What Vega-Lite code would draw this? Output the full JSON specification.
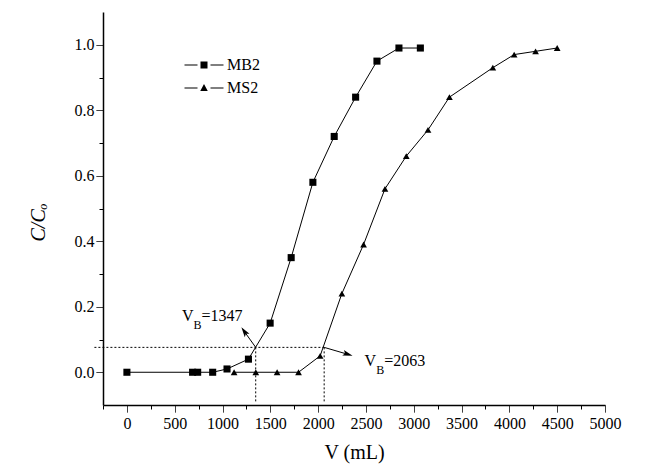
{
  "$schema": "https://vega.github.io/schema/vega-lite/v6.json",
  "width": 502,
  "height": 393,
  "autosize": {"type": "none"},
  "padding": {"left": 103, "top": 12, "right": 46, "bottom": 67},
  "background": "white",
  "config": {
    "view": {"stroke": null},
    "font": "Liberation Serif",
    "axis": {
      "grid": false,
      "domainColor": "black",
      "domainWidth": 1.5,
      "tickColor": "black",
      "tickWidth": 1,
      "labelColor": "black",
      "labelFont": "Liberation Serif",
      "labelFontSize": 16,
      "titleFont": "Liberation Serif",
      "titleColor": "black",
      "titleFontWeight": "normal",
      "titleFontSize": 20
    }
  },
  "datasets": {
    "pts": [
      {"series": "MB2", "x": 0, "y": 0},
      {"series": "MB2", "x": 687, "y": 0},
      {"series": "MB2", "x": 740, "y": 0},
      {"series": "MB2", "x": 897, "y": 0},
      {"series": "MB2", "x": 1047, "y": 0.01},
      {"series": "MB2", "x": 1271, "y": 0.04},
      {"series": "MB2", "x": 1498, "y": 0.15},
      {"series": "MB2", "x": 1718, "y": 0.35},
      {"series": "MB2", "x": 1945, "y": 0.58},
      {"series": "MB2", "x": 2168, "y": 0.72},
      {"series": "MB2", "x": 2392, "y": 0.84},
      {"series": "MB2", "x": 2615, "y": 0.95},
      {"series": "MB2", "x": 2845, "y": 0.99},
      {"series": "MB2", "x": 3069, "y": 0.99},
      {"series": "MS2", "x": 1121, "y": 0},
      {"series": "MS2", "x": 1348, "y": 0},
      {"series": "MS2", "x": 1571, "y": 0},
      {"series": "MS2", "x": 1795, "y": 0},
      {"series": "MS2", "x": 2021, "y": 0.05},
      {"series": "MS2", "x": 2248, "y": 0.24},
      {"series": "MS2", "x": 2475, "y": 0.39},
      {"series": "MS2", "x": 2699, "y": 0.56},
      {"series": "MS2", "x": 2922, "y": 0.66},
      {"series": "MS2", "x": 3149, "y": 0.74},
      {"series": "MS2", "x": 3373, "y": 0.84},
      {"series": "MS2", "x": 3827, "y": 0.93},
      {"series": "MS2", "x": 4050, "y": 0.97},
      {"series": "MS2", "x": 4274, "y": 0.98},
      {"series": "MS2", "x": 4500, "y": 0.99}
    ],
    "guide": [
      {"x": -340, "y": 0.076, "x2": 2063, "y2": 0.076},
      {"x": 1347, "y": 0.076, "x2": 1347, "y2": -0.093},
      {"x": 2063, "y": 0.076, "x2": 2063, "y2": -0.093}
    ],
    "shaft": [
      {"x": 1347, "y": 0.076, "x2": 1229, "y2": 0.124},
      {"x": 2063, "y": 0.076, "x2": 2308, "y2": 0.055}
    ],
    "head": [
      {"arrow": "A", "x": 1229, "y": 0.124},
      {"arrow": "B", "x": 2308, "y": 0.055}
    ],
    "annot": [
      {"part": "V", "x": 575, "y": 0.155, "text": "V"},
      {"part": "sub", "x": 697, "y": 0.133, "text": "B"},
      {"part": "rest", "x": 781, "y": 0.155, "text": "=1347"},
      {"part": "V", "x": 2486, "y": 0.018, "text": "V"},
      {"part": "sub", "x": 2607, "y": -0.004, "text": "B"},
      {"part": "rest", "x": 2691, "y": 0.018, "text": "=2063"}
    ]
  },
  "encoding": {
    "x": {
      "field": "x", "type": "quantitative",
      "scale": {"domain": [-250, 5000], "nice": false, "zero": false},
      "axis": {
        "title": "V (mL)",
        "titlePadding": 11,
        "labelOverlap": false,
        "labelFlush": false,
        "labelAngle": 0,
        "values": [-250, 0, 250, 500, 750, 1000, 1250, 1500, 1750, 2000, 2250, 2500, 2750, 3000, 3250, 3500, 3750, 4000, 4250, 4500, 4750, 5000],
        "format": "d",
        "labelExpr": "abs(datum.value) % 500 < 1 ? datum.label : ''",
        "tickSize": 7,
        "tickDash": {"condition": {"test": "abs(datum.value) % 500 < 1", "value": [1, 0]}, "value": [4, 20]},
        "labelPadding": 3
      }
    },
    "y": {
      "field": "y", "type": "quantitative",
      "scale": {"domain": [-0.1, 1.1], "nice": false, "zero": false},
      "axis": {
        "title": "C/Cₒ",
        "titleFontStyle": "italic",
        "titlePadding": 26,
        "titleY": 210,
        "labelOverlap": false,
        "labelFlush": false,
        "values": [0, 0.1, 0.2, 0.3, 0.4, 0.5, 0.6, 0.7, 0.8, 0.9, 1.0],
        "format": ".1f",
        "labelExpr": "round(datum.value * 10) % 2 === 0 ? datum.label : ''",
        "tickSize": 7,
        "tickDash": {"condition": {"test": "round(datum.value * 10) % 2 === 0", "value": [1, 0]}, "value": [4, 20]},
        "labelPadding": 2
      }
    }
  },
  "layer": [
    {
      "data": {"name": "pts"},
      "mark": {"type": "line", "color": "black", "strokeWidth": 1},
      "encoding": {
        "detail": {"field": "series"},
        "order": {"field": "x"}
      }
    },
    {
      "data": {"name": "guide"},
      "mark": {"type": "rule", "color": "black", "strokeWidth": 1, "strokeDash": [2, 2]},
      "encoding": {
        "x2": {"field": "x2"},
        "y2": {"field": "y2"}
      }
    },
    {
      "data": {"name": "pts"},
      "transform": [{"filter": "datum.series === 'MB2'"}],
      "mark": {"type": "point", "shape": "square", "filled": true, "color": "black", "size": 50, "opacity": 1}
    },
    {
      "data": {"name": "pts"},
      "transform": [{"filter": "datum.series === 'MS2'"}],
      "mark": {"type": "point", "shape": "triangle-up", "filled": true, "color": "black", "size": 45, "opacity": 1}
    },
    {
      "data": {"name": "pts"},
      "mark": {"type": "point", "filled": true, "color": "black", "opacity": 0, "size": 100},
      "encoding": {
        "shape": {
          "field": "series", "type": "nominal",
          "scale": {"range": [
            "M-3.9,-0.1H-1.3V0.1H-3.9Z M1.3,-0.1H3.9V0.1H1.3Z M-0.7,-0.7H0.7V0.7H-0.7Z",
            "M-3.9,-0.1H-1.3V0.1H-3.9Z M1.3,-0.1H3.9V0.1H1.3Z M0,-0.8L0.75,0.6H-0.75Z"
          ]},
          "legend": {
            "title": null,
            "orient": "none",
            "legendX": 93,
            "legendY": 45,
            "padding": 0,
            "rowPadding": 7,
            "symbolSize": 100,
            "symbolFillColor": "black",
            "symbolStrokeColor": "black",
            "symbolStrokeWidth": 0,
            "symbolOpacity": 1,
            "labelFont": "Liberation Serif",
            "labelFontSize": 16,
            "labelColor": "black",
            "labelOffset": 15,
            "encode": {"symbols": {"update": {
              "opacity": {"value": 1},
              "fill": {"value": "black"},
              "fillOpacity": {"value": 1}
            }}}
          }
        }
      }
    },
    {
      "data": {"name": "shaft"},
      "mark": {"type": "rule", "color": "black", "strokeWidth": 1},
      "encoding": {
        "x2": {"field": "x2"},
        "y2": {"field": "y2"}
      }
    },
    {
      "data": {"name": "head"},
      "transform": [{"filter": "datum.arrow === 'A'"}],
      "mark": {"type": "point", "shape": "M0,-1L0.55,0.9L0,0.5L-0.55,0.9Z", "filled": true, "color": "black", "size": 110, "angle": 325, "opacity": 1}
    },
    {
      "data": {"name": "head"},
      "transform": [{"filter": "datum.arrow === 'B'"}],
      "mark": {"type": "point", "shape": "M0,-1L0.55,0.9L0,0.5L-0.55,0.9Z", "filled": true, "color": "black", "size": 110, "angle": 107, "opacity": 1}
    },
    {
      "data": {"name": "annot"},
      "transform": [{"filter": "datum.part !== 'sub'"}],
      "mark": {"type": "text", "align": "left", "baseline": "alphabetic", "font": "Liberation Serif", "fontSize": 16, "color": "black"},
      "encoding": {"text": {"field": "text"}}
    },
    {
      "data": {"name": "annot"},
      "transform": [{"filter": "datum.part === 'sub'"}],
      "mark": {"type": "text", "align": "left", "baseline": "alphabetic", "font": "Liberation Serif", "fontSize": 12, "color": "black"},
      "encoding": {"text": {"field": "text"}}
    }
  ]
}
